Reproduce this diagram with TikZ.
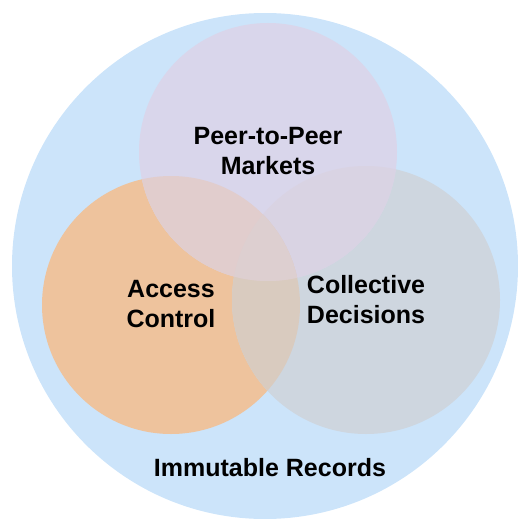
\documentclass[tikz,border=0pt]{standalone}
\usepackage{fontspec}
\setmainfont{Liberation Sans}
\definecolor{bgblue}{HTML}{CCE4FA}
\definecolor{corange}{HTML}{EEC39D}
\definecolor{cgrey}{HTML}{CED6DF}
\definecolor{clav}{HTML}{D9D6EB}
\definecolor{cog}{HTML}{D9CBBF}
\definecolor{cto}{HTML}{E1CDCD}
\definecolor{ctg}{HTML}{D9D3E3}
\definecolor{ctog}{HTML}{DDCFD0}
\tikzset{
  lbl/.style={font=\fontsize{25}{30}\selectfont\bfseries, inner sep=0pt, align=center, text=black}
}
\begin{document}
\begin{tikzpicture}[x=1pt,y=-1pt]
\useasboundingbox (0,0) rectangle (518,519);
\coordinate (cbig) at (265,266);
\coordinate (cleft) at (171,305);
\coordinate (cright) at (366,300);
\coordinate (ctop) at (268,152);
\def\rbig{253}
\def\rl{129}
\def\rr{134}
\def\rt{129}
\fill[bgblue] (cbig) circle (\rbig);
\fill[corange] (cleft) circle (\rl);
\fill[cgrey] (cright) circle (\rr);
\fill[clav] (ctop) circle (\rt);
\begin{scope}
  \clip (cright) circle (\rr);
  \fill[ctg] (ctop) circle (\rt);
\end{scope}
\begin{scope}
  \clip (cleft) circle (\rl);
  \fill[cog] (cright) circle (\rr);
  \fill[cto] (ctop) circle (\rt);
  \clip (cright) circle (\rr);
  \fill[ctog] (ctop) circle (\rt);
\end{scope}
\node[lbl] (peer) at (268,151.5) {Peer-to-Peer\\Markets};
\node[lbl] (access) at (171,304) {Access\\Control};
\node[lbl] (collective) at (366,300) {Collective\\Decisions};
\node[lbl, anchor=base] (immutable) at (270,476) {Immutable Records};
\end{tikzpicture}
\end{document}
